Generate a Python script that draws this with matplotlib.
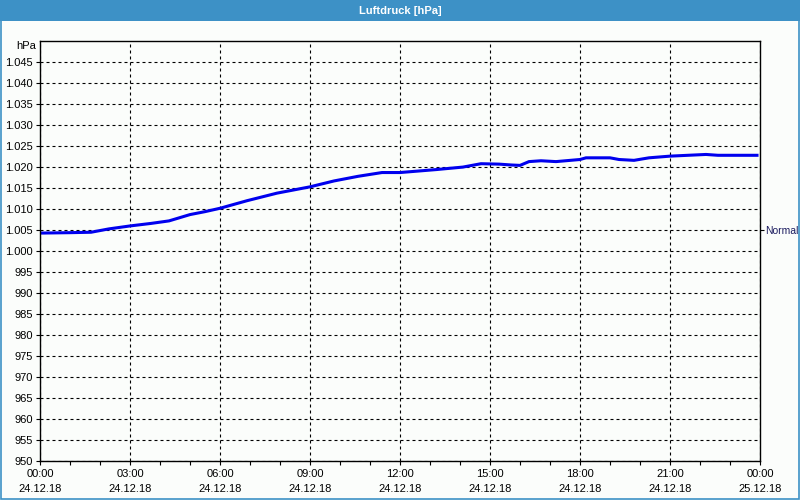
import matplotlib.pyplot as plt
from matplotlib.patches import Rectangle

plt.rcParams['font.family'] = ['Liberation Sans', 'DejaVu Sans']

# Luftdruck 24.12.18 00:00 .. 25.12.18 00:00 (Stunden, hPa)
hours = [0.0, 1.0, 1.7, 2.3, 3.0, 3.7, 4.3, 5.0, 5.5, 6.0, 6.9, 7.9, 9.0,
         9.8, 10.6, 11.4, 12.0, 13.2, 14.1, 14.7, 15.3, 15.7, 16.0, 16.3,
         16.7, 17.2, 18.0, 18.2, 19.0, 19.3, 19.8, 20.3, 21.0, 22.2, 22.6, 23.9]
pressure = [1004.2, 1004.3, 1004.4, 1005.2, 1005.9, 1006.5, 1007.1, 1008.6,
            1009.3, 1010.1, 1011.9, 1013.7, 1015.2, 1016.6, 1017.7, 1018.6,
            1018.6, 1019.3, 1019.9, 1020.7, 1020.6, 1020.4, 1020.3, 1021.2,
            1021.4, 1021.2, 1021.7, 1022.1, 1022.1, 1021.7, 1021.5, 1022.1,
            1022.5, 1022.9, 1022.7, 1022.7]
normal = 1005

xticks = [0, 3, 6, 9, 12, 15, 18, 21, 24]
xlabels = ['00:00\n24.12.18', '03:00\n24.12.18', '06:00\n24.12.18',
           '09:00\n24.12.18', '12:00\n24.12.18', '15:00\n24.12.18',
           '18:00\n24.12.18', '21:00\n24.12.18', '00:00\n25.12.18']
yticks = list(range(950, 1050, 5))
ylabels = [f'{v:,}'.replace(',', '.') for v in yticks]

blue = '#3d91c6'
bg = '#fbfdfb'

fig = plt.figure(figsize=(8, 5), dpi=100, facecolor=bg)
ax = fig.add_axes([0.05, 0.078, 0.90, 0.841])
ax.set_facecolor(bg)

ax.plot(hours, pressure, color='#0000ee', lw=2.2, solid_joinstyle='miter')

ax.set_xlim(0, 24)
ax.set_ylim(950, 1050)
ax.set_xticks(xticks)
ax.set_xticklabels(xlabels, fontsize=8, linespacing=1.55)
ax.set_xticks(range(0, 25), minor=True)
ax.set_yticks(yticks)
ax.set_yticklabels(ylabels, fontsize=8)
ax.tick_params(axis='both', which='both', length=3, width=0.8, direction='out',
               colors='black', pad=3)
ax.tick_params(axis='y', pad=2)
ax.grid(True, which='major', color='black', lw=0.8, linestyle=(0, (2.7, 2.7)))
for s in ax.spines.values():
    s.set_linewidth(1.0)

ax.text(-0.005, 1048.8, 'hPa', transform=ax.get_yaxis_transform(),
        ha='right', va='center', fontsize=8)

ax2 = ax.twinx()
ax2.set_ylim(950, 1050)
ax2.set_yticks([normal])
ax2.set_yticklabels(['Normal'], fontsize=7.5, color='#1c1c60')
ax2.tick_params(axis='y', length=3, width=0.8, pad=0.5)
for s in ax2.spines.values():
    s.set_visible(False)

fig.patches.append(Rectangle((0, 0.958), 1, 0.042, transform=fig.transFigure,
                             facecolor=blue, edgecolor='none', zorder=0))
fig.patches.append(Rectangle((0.001, 0.002), 0.998, 0.996, transform=fig.transFigure,
                             facecolor='none', edgecolor=blue, lw=1.2, zorder=5))
fig.text(0.5, 0.979, 'Luftdruck [hPa]', color='white', fontsize=8,
         fontweight='bold', ha='center', va='center')

fig.savefig('out.png', dpi=100, facecolor=bg)
